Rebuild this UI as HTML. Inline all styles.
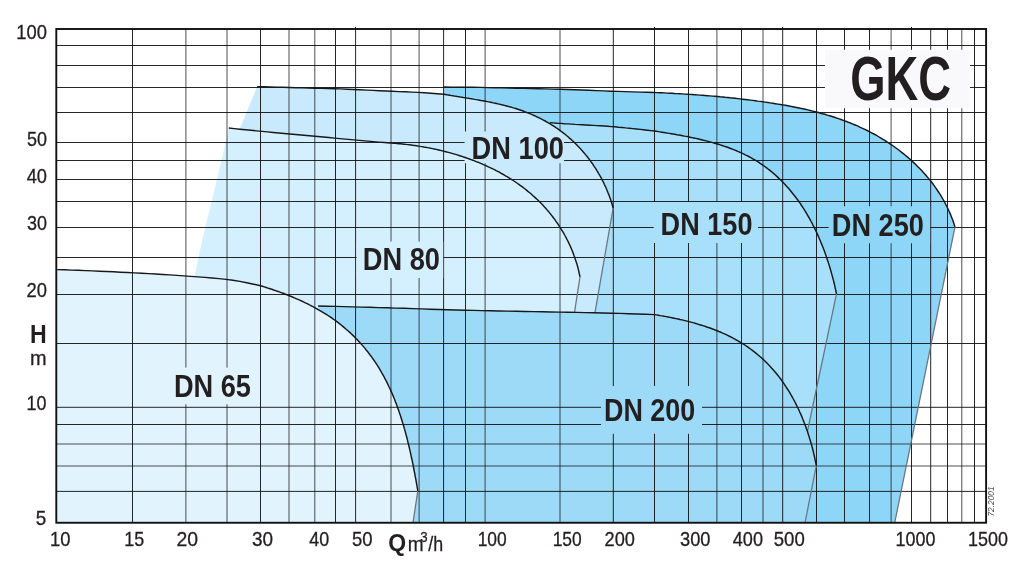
<!DOCTYPE html>
<html lang="en"><head><meta charset="utf-8"><title>GKC</title>
<style>html,body{margin:0;padding:0;background:#fff}svg{display:block}text{font-family:"Liberation Sans",Arial,Helvetica,sans-serif;fill:#231f20}</style>
</head><body>
<svg width="1024" height="568" viewBox="0 0 1024 568">
<rect width="1024" height="568" fill="#fff"/>
<defs><mask id="m" maskUnits="userSpaceOnUse" x="0" y="0" width="1024" height="568">
<rect width="1024" height="568" fill="#fff"/>
<rect x="171.0" y="367.6" width="85.0" height="36.6" fill="#000"/>
<rect x="356.6" y="241.6" width="86.6" height="36.4" fill="#000"/>
<rect x="464.6" y="131.5" width="99.4" height="31.7" fill="#000"/>
<rect x="653.7" y="202.0" width="104.3" height="41.0" fill="#000"/>
<rect x="601.0" y="386.0" width="101.0" height="47.8" fill="#000"/>
<rect x="828.6" y="206.3" width="101.5" height="37.0" fill="#000"/>
<rect x="825.0" y="49.8" width="145.0" height="58.4" fill="#000"/>
</mask></defs>
<g stroke="none">
<path fill="#8dd6f7" d="M443.8 87.0 L451.0 87.1 L458.3 87.1 L465.6 87.2 L472.8 87.3 L480.1 87.4 L487.4 87.6 L494.6 87.7 L501.9 87.8 L509.2 88.0 L516.4 88.2 L523.7 88.3 L531.0 88.5 L538.2 88.7 L545.5 88.9 L552.8 89.1 L560.0 89.3 L567.3 89.5 L574.6 89.7 L581.8 90.0 L589.1 90.3 L596.4 90.6 L603.6 90.9 L610.9 91.2 L618.2 91.4 L625.4 91.6 L632.7 91.9 L640.0 92.1 L647.2 92.3 L654.5 92.5 L657.0 92.6 L659.6 92.7 L662.1 92.8 L664.6 92.9 L667.1 93.1 L669.7 93.2 L672.2 93.3 L674.7 93.5 L677.2 93.6 L679.7 93.7 L682.3 93.9 L684.8 94.1 L687.3 94.2 L689.8 94.4 L692.3 94.5 L694.9 94.7 L697.4 94.9 L699.9 95.1 L702.4 95.3 L704.9 95.5 L707.5 95.7 L710.0 95.9 L712.5 96.1 L715.0 96.3 L717.5 96.5 L720.1 96.8 L722.6 97.0 L725.1 97.3 L727.6 97.5 L730.1 97.8 L732.6 98.0 L735.1 98.3 L737.7 98.6 L740.2 98.9 L742.7 99.2 L745.2 99.5 L747.7 99.8 L750.2 100.1 L752.7 100.4 L755.3 100.7 L757.8 101.1 L760.3 101.4 L762.8 101.8 L765.3 102.1 L767.8 102.5 L770.3 102.9 L772.8 103.3 L775.3 103.7 L777.9 104.1 L780.4 104.5 L782.9 104.9 L785.4 105.3 L787.9 105.8 L790.4 106.3 L792.9 106.7 L795.3 107.2 L797.8 107.7 L800.3 108.3 L802.8 108.8 L805.3 109.3 L807.7 109.9 L810.2 110.5 L812.7 111.1 L815.1 111.7 L817.6 112.3 L820.0 113.0 L822.4 113.7 L824.9 114.3 L827.3 115.1 L829.7 115.8 L832.1 116.5 L834.5 117.3 L836.9 118.1 L839.3 118.9 L841.6 119.7 L844.0 120.6 L846.4 121.5 L848.7 122.4 L851.1 123.3 L853.4 124.3 L855.7 125.2 L858.0 126.2 L860.3 127.3 L862.6 128.3 L864.9 129.4 L867.1 130.5 L869.4 131.7 L871.6 132.8 L873.9 134.0 L876.1 135.2 L878.3 136.5 L880.5 137.8 L882.6 139.1 L884.8 140.4 L886.9 141.8 L889.0 143.2 L891.2 144.6 L893.2 146.0 L895.3 147.5 L897.4 149.0 L899.4 150.5 L901.4 152.1 L903.4 153.6 L905.3 155.2 L907.3 156.9 L909.2 158.5 L911.1 160.2 L912.9 161.9 L914.8 163.6 L916.6 165.4 L918.4 167.2 L920.2 169.0 L921.9 170.8 L923.6 172.7 L925.3 174.5 L926.9 176.5 L928.5 178.4 L930.1 180.3 L931.7 182.3 L933.2 184.3 L934.7 186.4 L936.1 188.4 L937.5 190.5 L938.9 192.6 L940.3 194.7 L941.6 196.9 L942.8 199.0 L944.1 201.2 L945.3 203.5 L946.4 205.7 L947.6 208.0 L948.6 210.3 L949.7 212.6 L950.7 214.9 L951.6 217.3 L952.5 219.6 L953.4 222.0 L954.2 224.5 L955.0 226.9 L894.7 522.8 L443.8 522.8Z"/>
<path fill="#a8dffa" d="M549.8 122.6 L553.4 122.9 L557.0 123.2 L560.6 123.4 L564.2 123.7 L567.9 123.9 L571.5 124.1 L575.1 124.4 L578.7 124.6 L582.3 124.8 L586.0 125.0 L589.6 125.2 L593.2 125.4 L596.8 125.6 L600.4 125.8 L604.0 126.0 L607.6 126.3 L611.3 126.6 L614.9 126.8 L618.5 127.2 L622.1 127.5 L625.7 127.9 L629.3 128.2 L632.9 128.6 L636.5 129.0 L640.1 129.4 L643.7 129.8 L647.3 130.2 L650.9 130.6 L654.5 131.0 L656.3 131.3 L658.2 131.6 L660.0 131.9 L661.8 132.2 L663.7 132.5 L665.6 132.8 L667.4 133.1 L669.3 133.4 L671.2 133.7 L673.1 134.0 L674.9 134.3 L676.8 134.7 L678.7 135.0 L680.6 135.3 L682.5 135.7 L684.4 136.1 L686.3 136.4 L688.2 136.8 L690.1 137.2 L692.0 137.6 L693.9 138.0 L695.8 138.4 L697.7 138.8 L699.6 139.3 L701.5 139.7 L703.4 140.2 L705.3 140.6 L707.2 141.1 L709.1 141.6 L710.9 142.1 L712.8 142.6 L714.7 143.2 L716.6 143.7 L718.4 144.3 L720.3 144.9 L722.1 145.5 L724.0 146.1 L725.8 146.7 L727.6 147.3 L729.4 148.0 L731.2 148.7 L733.0 149.4 L734.8 150.1 L736.6 150.8 L738.3 151.6 L740.1 152.3 L741.8 153.1 L743.6 153.9 L745.3 154.8 L747.0 155.6 L748.7 156.5 L750.4 157.4 L752.0 158.3 L753.7 159.3 L755.3 160.2 L756.9 161.2 L758.5 162.2 L760.1 163.3 L761.7 164.3 L763.2 165.4 L764.8 166.5 L766.3 167.6 L767.8 168.8 L769.3 169.9 L770.8 171.1 L772.2 172.3 L773.7 173.6 L775.1 174.8 L776.5 176.1 L777.9 177.4 L779.3 178.7 L780.7 180.0 L782.0 181.3 L783.3 182.7 L784.6 184.1 L785.9 185.5 L787.2 186.9 L788.5 188.3 L789.7 189.7 L790.9 191.2 L792.1 192.7 L793.3 194.2 L794.5 195.7 L795.7 197.2 L796.8 198.7 L798.0 200.3 L799.1 201.8 L800.2 203.4 L801.2 205.0 L802.3 206.6 L803.3 208.2 L804.4 209.8 L805.4 211.5 L806.4 213.1 L807.4 214.8 L808.3 216.5 L809.3 218.1 L810.2 219.8 L811.1 221.5 L812.1 223.2 L812.9 225.0 L813.8 226.7 L814.7 228.4 L815.5 230.2 L816.4 231.9 L817.2 233.7 L818.0 235.4 L818.8 237.2 L819.5 239.0 L820.3 240.8 L821.0 242.6 L821.8 244.4 L822.5 246.2 L823.2 248.0 L823.9 249.8 L824.6 251.6 L825.2 253.4 L825.9 255.2 L826.5 257.1 L827.1 258.9 L827.7 260.7 L828.3 262.5 L828.9 264.4 L829.5 266.2 L830.0 268.1 L830.6 269.9 L831.1 271.7 L831.6 273.6 L832.1 275.4 L832.6 277.3 L833.1 279.1 L833.6 280.9 L834.0 282.8 L834.5 284.6 L834.9 286.4 L835.3 288.3 L835.7 290.1 L836.1 291.9 L836.5 293.8 L807.5 431.0 L549.8 431.0Z"/>
<path fill="#9cdaf8" d="M318.1 306.0 L326.7 306.2 L335.3 306.4 L344.0 306.6 L352.6 306.9 L361.2 307.1 L369.8 307.3 L378.5 307.6 L387.1 307.8 L395.7 308.1 L404.3 308.3 L413.0 308.6 L421.6 308.9 L430.2 309.2 L438.8 309.5 L447.4 309.7 L456.1 310.0 L464.7 310.2 L473.3 310.4 L481.9 310.6 L490.6 310.8 L499.2 311.0 L507.8 311.1 L516.4 311.3 L525.1 311.5 L533.7 311.6 L542.3 311.8 L550.9 312.0 L559.5 312.1 L568.2 312.3 L576.8 312.4 L585.4 312.6 L594.0 312.8 L602.7 313.0 L611.3 313.2 L619.9 313.4 L628.5 313.7 L637.2 314.0 L645.8 314.3 L654.4 314.6 L656.4 314.9 L658.3 315.2 L660.3 315.6 L662.2 315.9 L664.2 316.3 L666.2 316.6 L668.2 317.0 L670.1 317.4 L672.1 317.8 L674.1 318.2 L676.1 318.6 L678.1 319.0 L680.0 319.5 L682.0 319.9 L684.0 320.4 L686.0 320.9 L688.0 321.4 L689.9 321.9 L691.9 322.4 L693.9 322.9 L695.8 323.5 L697.8 324.1 L699.7 324.7 L701.7 325.3 L703.6 325.9 L705.6 326.5 L707.5 327.2 L709.4 327.8 L711.3 328.5 L713.2 329.2 L715.1 330.0 L717.0 330.7 L718.9 331.5 L720.8 332.2 L722.6 333.1 L724.5 333.9 L726.3 334.7 L728.1 335.6 L729.9 336.5 L731.7 337.4 L733.5 338.3 L735.3 339.3 L737.1 340.3 L738.8 341.3 L740.5 342.3 L742.2 343.3 L743.9 344.4 L745.6 345.5 L747.3 346.6 L748.9 347.8 L750.5 349.0 L752.1 350.2 L753.7 351.4 L755.3 352.6 L756.8 353.9 L758.4 355.2 L759.9 356.5 L761.4 357.8 L762.9 359.1 L764.3 360.5 L765.8 361.9 L767.2 363.3 L768.6 364.8 L770.0 366.2 L771.3 367.7 L772.7 369.2 L774.0 370.7 L775.3 372.2 L776.6 373.8 L777.8 375.3 L779.1 376.9 L780.3 378.5 L781.5 380.1 L782.6 381.8 L783.8 383.4 L784.9 385.1 L786.0 386.8 L787.1 388.5 L788.2 390.2 L789.3 391.9 L790.3 393.7 L791.3 395.4 L792.3 397.2 L793.3 399.0 L794.3 400.7 L795.2 402.5 L796.1 404.4 L797.0 406.2 L797.9 408.0 L798.8 409.8 L799.6 411.7 L800.5 413.6 L801.3 415.4 L802.1 417.3 L802.8 419.2 L803.6 421.1 L804.3 423.0 L805.1 424.9 L805.8 426.8 L806.4 428.7 L807.1 430.6 L807.8 432.6 L808.4 434.5 L809.0 436.4 L809.6 438.4 L810.2 440.3 L810.8 442.2 L811.3 444.2 L811.9 446.1 L812.4 448.1 L812.9 450.0 L813.4 452.0 L813.8 453.9 L814.3 455.9 L814.7 457.8 L815.1 459.8 L815.5 461.7 L815.9 463.7 L816.3 465.6 L805.0 522.8 L318.0 522.8Z"/>
<path fill="#c8eafc" d="M257.2 86.6 L263.6 86.8 L270.1 87.0 L276.5 87.2 L282.9 87.3 L289.4 87.5 L295.8 87.7 L302.3 87.8 L308.7 88.0 L315.1 88.2 L321.6 88.3 L328.0 88.5 L334.4 88.7 L340.9 88.9 L347.3 89.2 L353.7 89.5 L360.2 89.8 L366.6 90.1 L373.0 90.4 L379.5 90.7 L385.9 91.0 L392.3 91.3 L398.8 91.6 L405.2 91.8 L411.6 92.1 L418.1 92.4 L424.5 92.8 L430.9 93.2 L437.3 93.7 L443.8 94.2 L445.3 94.5 L446.8 94.8 L448.3 95.0 L449.9 95.3 L451.4 95.6 L452.9 95.8 L454.5 96.1 L456.0 96.3 L457.6 96.6 L459.1 96.8 L460.7 97.1 L462.2 97.3 L463.8 97.6 L465.4 97.8 L466.9 98.1 L468.5 98.3 L470.0 98.6 L471.6 98.8 L473.2 99.1 L474.7 99.4 L476.3 99.6 L477.9 99.9 L479.4 100.2 L481.0 100.5 L482.6 100.7 L484.1 101.0 L485.7 101.3 L487.2 101.6 L488.8 101.9 L490.4 102.2 L491.9 102.5 L493.5 102.9 L495.0 103.2 L496.6 103.5 L498.1 103.9 L499.7 104.2 L501.2 104.6 L502.8 105.0 L504.3 105.4 L505.8 105.8 L507.4 106.2 L508.9 106.6 L510.4 107.0 L511.9 107.4 L513.4 107.9 L514.9 108.3 L516.4 108.8 L517.9 109.3 L519.4 109.8 L520.9 110.3 L522.4 110.8 L523.9 111.3 L525.3 111.9 L526.8 112.5 L528.3 113.0 L529.7 113.6 L531.2 114.2 L532.6 114.8 L534.0 115.5 L535.5 116.1 L536.9 116.8 L538.3 117.5 L539.7 118.1 L541.1 118.9 L542.5 119.6 L543.9 120.3 L545.2 121.0 L546.6 121.8 L547.9 122.6 L549.3 123.4 L550.6 124.2 L552.0 125.0 L553.3 125.8 L554.6 126.7 L555.9 127.6 L557.2 128.4 L558.5 129.3 L559.7 130.2 L561.0 131.2 L562.2 132.1 L563.5 133.1 L564.7 134.0 L565.9 135.0 L567.1 136.0 L568.3 137.0 L569.5 138.1 L570.7 139.1 L571.9 140.2 L573.0 141.2 L574.2 142.3 L575.3 143.4 L576.4 144.5 L577.5 145.7 L578.6 146.8 L579.7 148.0 L580.8 149.1 L581.8 150.3 L582.9 151.5 L583.9 152.7 L584.9 153.9 L585.9 155.1 L586.9 156.3 L587.9 157.6 L588.8 158.8 L589.8 160.1 L590.7 161.4 L591.7 162.7 L592.6 163.9 L593.5 165.3 L594.3 166.6 L595.2 167.9 L596.1 169.2 L596.9 170.6 L597.7 171.9 L598.5 173.3 L599.3 174.6 L600.1 176.0 L600.9 177.4 L601.6 178.8 L602.3 180.2 L603.1 181.6 L603.8 183.0 L604.4 184.5 L605.1 185.9 L605.8 187.3 L606.4 188.8 L607.0 190.2 L607.6 191.7 L608.2 193.2 L608.8 194.6 L609.3 196.1 L609.9 197.6 L610.4 199.1 L610.9 200.6 L611.4 202.1 L611.8 203.6 L612.3 205.1 L612.7 206.6 L613.1 208.1 L595.0 312.7 L594.0 312.8 L585.4 312.6 L576.8 312.4 L574.5 312.4 L580.0 276.9 L579.6 275.1 L579.2 273.3 L578.8 271.5 L578.4 269.7 L578.0 267.9 L577.5 266.2 L577.0 264.4 L576.5 262.7 L575.9 260.9 L575.3 259.2 L574.8 257.5 L574.1 255.8 L573.5 254.1 L572.9 252.4 L572.2 250.7 L571.5 249.0 L570.8 247.4 L570.1 245.7 L569.3 244.1 L568.5 242.4 L567.7 240.8 L566.9 239.2 L566.1 237.6 L565.2 236.0 L564.4 234.5 L563.5 232.9 L562.6 231.4 L561.6 229.8 L560.7 228.3 L559.7 226.8 L558.8 225.3 L557.8 223.8 L556.7 222.3 L555.7 220.9 L554.7 219.4 L553.6 218.0 L552.5 216.5 L551.4 215.1 L550.3 213.7 L549.2 212.4 L548.0 211.0 L546.8 209.6 L545.7 208.3 L544.5 207.0 L543.3 205.6 L542.0 204.3 L540.8 203.1 L539.5 201.8 L538.3 200.5 L537.0 199.3 L535.7 198.1 L534.4 196.9 L533.0 195.7 L531.7 194.5 L530.4 193.3 L529.0 192.2 L527.6 191.1 L526.2 189.9 L524.8 188.8 L523.4 187.7 L522.0 186.7 L520.5 185.6 L519.1 184.6 L517.6 183.5 L516.1 182.5 L514.7 181.5 L513.2 180.5 L511.7 179.5 L510.1 178.6 L508.6 177.6 L507.1 176.7 L505.5 175.8 L504.0 174.9 L502.4 174.0 L500.8 173.1 L499.3 172.2 L497.7 171.4 L496.1 170.6 L494.5 169.7 L492.8 168.9 L491.2 168.1 L489.6 167.4 L487.9 166.6 L486.3 165.8 L484.6 165.1 L483.0 164.4 L481.3 163.6 L479.6 162.9 L477.9 162.2 L476.2 161.6 L474.5 160.9 L472.8 160.2 L471.1 159.6 L469.4 159.0 L467.7 158.4 L466.0 157.8 L464.3 157.2 L462.5 156.6 L460.8 156.0 L459.1 155.5 L457.3 154.9 L455.6 154.4 L453.8 153.9 L452.0 153.4 L450.3 152.9 L448.5 152.4 L446.8 152.0 L445.0 151.5 L443.2 151.1 L441.5 150.6 L439.7 150.2 L437.9 149.8 L436.1 149.4 L434.3 149.0 L432.6 148.6 L430.8 148.3 L429.0 147.9 L427.2 147.6 L425.4 147.3 L423.7 147.0 L421.9 146.6 L420.1 146.4 L418.3 146.1 L416.5 145.8 L414.7 145.5 L413.0 145.3 L411.2 145.0 L409.4 144.8 L407.6 144.6 L405.9 144.4 L404.1 144.2 L402.3 144.0 L400.5 143.8 L398.8 143.7 L397.0 143.5 L395.3 143.4 L393.5 143.2 L391.7 143.1 L390.0 143.0 L384.4 142.5 L378.9 142.1 L373.3 141.6 L367.7 141.1 L362.2 140.6 L356.6 140.1 L351.1 139.6 L345.5 139.1 L339.9 138.6 L334.4 138.1 L328.8 137.5 L323.3 137.0 L317.7 136.5 L312.1 136.0 L306.6 135.5 L301.0 135.0 L295.4 134.5 L289.9 134.0 L284.3 133.5 L278.8 133.0 L273.2 132.5 L267.6 131.9 L262.1 131.4 L256.5 130.9 L251.0 130.3 L245.4 129.7 L239.9 129.2 L239.7 129.1Z"/>
<path fill="#d4effd" d="M194.8 275.5 L195.3 273.0 L195.8 270.5 L196.3 267.9 L196.8 265.4 L197.3 262.9 L197.8 260.4 L198.4 257.9 L198.9 255.4 L199.4 252.9 L200.0 250.4 L200.5 247.9 L201.1 245.4 L201.7 242.9 L202.2 240.3 L202.8 237.8 L203.4 235.4 L204.0 232.9 L204.6 230.4 L205.2 227.9 L205.7 225.4 L206.3 222.9 L206.9 220.4 L207.6 217.9 L208.2 215.4 L208.8 212.9 L209.4 210.4 L210.0 207.9 L210.6 205.4 L211.2 202.9 L211.8 200.4 L212.4 197.9 L213.0 195.5 L213.7 193.0 L214.3 190.5 L214.9 188.0 L215.5 185.5 L216.1 183.0 L216.7 180.5 L217.3 178.0 L217.9 175.5 L218.5 173.0 L219.1 170.5 L219.7 168.0 L220.3 165.5 L220.9 163.1 L221.5 160.6 L222.1 158.1 L222.7 155.6 L223.3 153.1 L223.8 150.6 L224.4 148.1 L225.0 145.6 L225.5 143.1 L226.1 140.5 L226.6 138.0 L227.2 135.5 L227.7 133.0 L228.2 130.5 L228.8 128.0 L234.3 128.6 L239.9 129.2 L245.4 129.7 L251.0 130.3 L256.5 130.9 L262.1 131.4 L267.6 131.9 L273.2 132.5 L278.8 133.0 L284.3 133.5 L289.9 134.0 L295.4 134.5 L301.0 135.0 L306.6 135.5 L312.1 136.0 L317.7 136.5 L323.3 137.0 L328.8 137.5 L334.4 138.1 L339.9 138.6 L345.5 139.1 L351.1 139.6 L356.6 140.1 L362.2 140.6 L367.7 141.1 L373.3 141.6 L378.9 142.1 L384.4 142.5 L390.0 143.0 L391.7 143.1 L393.5 143.2 L395.3 143.4 L397.0 143.5 L398.8 143.7 L400.5 143.8 L402.3 144.0 L404.1 144.2 L405.9 144.4 L407.6 144.6 L409.4 144.8 L411.2 145.0 L413.0 145.3 L414.7 145.5 L416.5 145.8 L418.3 146.1 L420.1 146.4 L421.9 146.6 L423.7 147.0 L425.4 147.3 L427.2 147.6 L429.0 147.9 L430.8 148.3 L432.6 148.6 L434.3 149.0 L436.1 149.4 L437.9 149.8 L439.7 150.2 L441.5 150.6 L443.2 151.1 L445.0 151.5 L446.8 152.0 L448.5 152.4 L450.3 152.9 L452.0 153.4 L453.8 153.9 L455.6 154.4 L457.3 154.9 L459.1 155.5 L460.8 156.0 L462.5 156.6 L464.3 157.2 L466.0 157.8 L467.7 158.4 L469.4 159.0 L471.1 159.6 L472.8 160.2 L474.5 160.9 L476.2 161.6 L477.9 162.2 L479.6 162.9 L481.3 163.6 L483.0 164.4 L484.6 165.1 L486.3 165.8 L487.9 166.6 L489.6 167.4 L491.2 168.1 L492.8 168.9 L494.5 169.7 L496.1 170.6 L497.7 171.4 L499.3 172.2 L500.8 173.1 L502.4 174.0 L504.0 174.9 L505.5 175.8 L507.1 176.7 L508.6 177.6 L510.1 178.6 L511.7 179.5 L513.2 180.5 L514.7 181.5 L516.1 182.5 L517.6 183.5 L519.1 184.6 L520.5 185.6 L522.0 186.7 L523.4 187.7 L524.8 188.8 L526.2 189.9 L527.6 191.1 L529.0 192.2 L530.4 193.3 L531.7 194.5 L533.0 195.7 L534.4 196.9 L535.7 198.1 L537.0 199.3 L538.3 200.5 L539.5 201.8 L540.8 203.1 L542.0 204.3 L543.3 205.6 L544.5 207.0 L545.7 208.3 L546.8 209.6 L548.0 211.0 L549.2 212.4 L550.3 213.7 L551.4 215.1 L552.5 216.5 L553.6 218.0 L554.7 219.4 L555.7 220.9 L556.7 222.3 L557.8 223.8 L558.8 225.3 L559.7 226.8 L560.7 228.3 L561.6 229.8 L562.6 231.4 L563.5 232.9 L564.4 234.5 L565.2 236.0 L566.1 237.6 L566.9 239.2 L567.7 240.8 L568.5 242.4 L569.3 244.1 L570.1 245.7 L570.8 247.4 L571.5 249.0 L572.2 250.7 L572.9 252.4 L573.5 254.1 L574.1 255.8 L574.8 257.5 L575.3 259.2 L575.9 260.9 L576.5 262.7 L577.0 264.4 L577.5 266.2 L578.0 267.9 L578.4 269.7 L578.8 271.5 L579.2 273.3 L579.6 275.1 L580.0 276.9 L574.5 312.4 L568.2 312.3 L559.5 312.1 L550.9 312.0 L542.3 311.8 L533.7 311.6 L525.1 311.5 L516.4 311.3 L507.8 311.1 L499.2 311.0 L490.6 310.8 L481.9 310.6 L473.3 310.4 L464.7 310.2 L456.1 310.0 L447.4 309.7 L438.8 309.5 L430.2 309.2 L421.6 308.9 L413.0 308.6 L404.3 308.3 L395.7 308.1 L387.1 307.8 L378.5 307.6 L369.8 307.3 L361.2 307.1 L352.6 306.9 L344.0 306.6 L335.3 306.4 L326.7 306.2 L318.1 306.0 L318.1 313.0 L250.0 293.0 L194.8 281.0Z"/>
<path fill="#e1f4fe" d="M56.3 269.7 L57.3 269.6 L64.3 269.8 L71.4 270.1 L78.4 270.3 L85.4 270.6 L92.5 270.9 L99.5 271.2 L106.5 271.5 L113.6 271.8 L120.6 272.2 L127.6 272.5 L134.6 272.9 L141.7 273.2 L148.7 273.6 L155.7 274.0 L162.8 274.5 L169.8 274.9 L176.8 275.4 L183.8 275.9 L190.8 276.4 L197.9 276.9 L204.9 277.4 L211.9 278.0 L218.9 278.6 L225.9 279.4 L232.9 280.3 L239.8 281.4 L246.7 282.7 L253.6 284.2 L260.5 285.8 L262.4 286.3 L264.3 286.9 L266.1 287.5 L268.0 288.1 L269.9 288.7 L271.8 289.3 L273.7 290.0 L275.6 290.6 L277.4 291.3 L279.3 291.9 L281.2 292.6 L283.1 293.3 L284.9 294.0 L286.8 294.7 L288.7 295.5 L290.5 296.2 L292.4 297.0 L294.3 297.8 L296.1 298.6 L297.9 299.4 L299.8 300.2 L301.6 301.0 L303.4 301.9 L305.3 302.8 L307.1 303.6 L308.9 304.5 L310.6 305.5 L312.4 306.4 L314.2 307.3 L316.0 308.3 L317.7 309.3 L319.5 310.3 L321.2 311.3 L322.9 312.3 L324.6 313.4 L326.3 314.4 L328.0 315.5 L329.7 316.6 L331.3 317.7 L332.9 318.9 L334.6 320.0 L336.2 321.2 L337.8 322.4 L339.4 323.6 L340.9 324.8 L342.5 326.1 L344.0 327.4 L345.5 328.7 L347.0 330.0 L348.5 331.3 L350.0 332.6 L351.4 334.0 L352.9 335.4 L354.3 336.7 L355.7 338.2 L357.1 339.6 L358.4 341.0 L359.8 342.5 L361.1 343.9 L362.4 345.4 L363.7 346.9 L365.0 348.4 L366.2 350.0 L367.5 351.5 L368.7 353.1 L369.9 354.7 L371.1 356.2 L372.2 357.9 L373.4 359.5 L374.5 361.1 L375.6 362.7 L376.7 364.4 L377.8 366.1 L378.8 367.7 L379.8 369.4 L380.8 371.1 L381.8 372.9 L382.8 374.6 L383.8 376.3 L384.7 378.1 L385.6 379.8 L386.5 381.6 L387.4 383.4 L388.3 385.2 L389.1 387.0 L390.0 388.8 L390.8 390.6 L391.6 392.4 L392.4 394.3 L393.2 396.1 L394.0 398.0 L394.7 399.8 L395.4 401.7 L396.2 403.6 L396.9 405.4 L397.5 407.3 L398.2 409.2 L398.9 411.1 L399.5 413.0 L400.2 414.9 L400.8 416.8 L401.4 418.8 L402.0 420.7 L402.6 422.6 L403.2 424.6 L403.8 426.5 L404.3 428.4 L404.9 430.4 L405.4 432.3 L405.9 434.3 L406.5 436.2 L407.0 438.2 L407.5 440.1 L407.9 442.1 L408.4 444.0 L408.9 446.0 L409.4 448.0 L409.8 449.9 L410.3 451.9 L410.7 453.8 L411.1 455.8 L411.5 457.8 L412.0 459.7 L412.4 461.7 L412.8 463.6 L413.2 465.6 L413.5 467.5 L413.9 469.5 L414.3 471.4 L414.7 473.4 L415.0 475.3 L415.4 477.3 L415.8 479.2 L416.1 481.1 L416.5 483.1 L416.8 485.0 L417.1 486.9 L417.5 488.8 L417.8 490.8 L413.0 522.8 L56.3 522.8Z"/>
</g>
<rect x="825" y="49.8" width="145" height="58.4" fill="#f9f9fb"/>
<g mask="url(#m)" stroke="#121214" stroke-width="0.92" fill="none">
<path d="M132.5 29.0V522.8M260.5 29.0V522.8M335.5 29.0V522.8M355.6 29.0V522.8M443.6 29.0V522.8M465.5 29.0V522.8M613.3 29.0V522.8M654.5 29.0V522.8M688.5 29.0V522.8M741.5 29.0V522.8M782.7 29.0V522.8M816.5 29.0V522.8M844.5 29.0V522.8M869.5 29.0V522.8M911.5 29.0V522.8M930.7 29.0V522.8M947.5 29.0V522.8M974.5 29.0V522.8M56.3 45.5H986.1M56.3 65.5H986.1M56.3 87.5H986.1M56.3 112.5H986.1M56.3 142.5H986.1M56.3 160.5H986.1M56.3 179.5H986.1M56.3 201.5H986.1M56.3 227.5H986.1M56.3 257.5H986.1M56.3 294.5H986.1M56.3 343.5H986.1M56.3 407.3H986.1M56.3 424.5H986.1M56.3 491.4H986.1"/>
<path stroke-width="0.74" d="M185.9 29.0V522.8M227.0 29.0V522.8M289.0 29.0V522.8M314.8 29.0V522.8M391.0 29.0V522.8M419.1 29.0V522.8M485.1 29.0V522.8M560.0 29.0V522.8M716.9 29.0V522.8M763.0 29.0V522.8M891.1 29.0V522.8M961.8 29.0V522.8M56.3 444.0H986.1M56.3 466.0H986.1"/>
</g>
<path stroke="#121214" stroke-width="1" d="M355.5 26.9V29M654.5 26.9V29M782.6 26.9V29M911.5 26.9V29"/>
<g stroke="#6a757e" stroke-width="1.25" fill="none">
<path d="M417.8 490.8 L413.0 522.8"/>
<path d="M580.0 276.9 L574.5 312.4"/>
<path d="M613.1 208.1 L595.0 312.7"/>
<path d="M836.5 293.8 L807.5 431.0"/>
<path d="M816.3 465.6 L805.0 522.8"/>
<path d="M955.0 226.9 L894.7 522.8"/>
</g>
<g stroke="#18181a" stroke-width="1.45" fill="none" stroke-linecap="butt" stroke-linejoin="round">
<path d="M57.3 269.6 L64.3 269.8 L71.4 270.1 L78.4 270.3 L85.4 270.6 L92.5 270.9 L99.5 271.2 L106.5 271.5 L113.6 271.8 L120.6 272.2 L127.6 272.5 L134.6 272.9 L141.7 273.2 L148.7 273.6 L155.7 274.0 L162.8 274.5 L169.8 274.9 L176.8 275.4 L183.8 275.9 L190.8 276.4 L197.9 276.9 L204.9 277.4 L211.9 278.0 L218.9 278.6 L225.9 279.4 L232.9 280.3 L239.8 281.4 L246.7 282.7 L253.6 284.2 L260.5 285.8 L262.4 286.3 L264.3 286.9 L266.1 287.5 L268.0 288.1 L269.9 288.7 L271.8 289.3 L273.7 290.0 L275.6 290.6 L277.4 291.3 L279.3 291.9 L281.2 292.6 L283.1 293.3 L284.9 294.0 L286.8 294.7 L288.7 295.5 L290.5 296.2 L292.4 297.0 L294.3 297.8 L296.1 298.6 L297.9 299.4 L299.8 300.2 L301.6 301.0 L303.4 301.9 L305.3 302.8 L307.1 303.6 L308.9 304.5 L310.6 305.5 L312.4 306.4 L314.2 307.3 L316.0 308.3 L317.7 309.3 L319.5 310.3 L321.2 311.3 L322.9 312.3 L324.6 313.4 L326.3 314.4 L328.0 315.5 L329.7 316.6 L331.3 317.7 L332.9 318.9 L334.6 320.0 L336.2 321.2 L337.8 322.4 L339.4 323.6 L340.9 324.8 L342.5 326.1 L344.0 327.4 L345.5 328.7 L347.0 330.0 L348.5 331.3 L350.0 332.6 L351.4 334.0 L352.9 335.4 L354.3 336.7 L355.7 338.2 L357.1 339.6 L358.4 341.0 L359.8 342.5 L361.1 343.9 L362.4 345.4 L363.7 346.9 L365.0 348.4 L366.2 350.0 L367.5 351.5 L368.7 353.1 L369.9 354.7 L371.1 356.2 L372.2 357.9 L373.4 359.5 L374.5 361.1 L375.6 362.7 L376.7 364.4 L377.8 366.1 L378.8 367.7 L379.8 369.4 L380.8 371.1 L381.8 372.9 L382.8 374.6 L383.8 376.3 L384.7 378.1 L385.6 379.8 L386.5 381.6 L387.4 383.4 L388.3 385.2 L389.1 387.0 L390.0 388.8 L390.8 390.6 L391.6 392.4 L392.4 394.3 L393.2 396.1 L394.0 398.0 L394.7 399.8 L395.4 401.7 L396.2 403.6 L396.9 405.4 L397.5 407.3 L398.2 409.2 L398.9 411.1 L399.5 413.0 L400.2 414.9 L400.8 416.8 L401.4 418.8 L402.0 420.7 L402.6 422.6 L403.2 424.6 L403.8 426.5 L404.3 428.4 L404.9 430.4 L405.4 432.3 L405.9 434.3 L406.5 436.2 L407.0 438.2 L407.5 440.1 L407.9 442.1 L408.4 444.0 L408.9 446.0 L409.4 448.0 L409.8 449.9 L410.3 451.9 L410.7 453.8 L411.1 455.8 L411.5 457.8 L412.0 459.7 L412.4 461.7 L412.8 463.6 L413.2 465.6 L413.5 467.5 L413.9 469.5 L414.3 471.4 L414.7 473.4 L415.0 475.3 L415.4 477.3 L415.8 479.2 L416.1 481.1 L416.5 483.1 L416.8 485.0 L417.1 486.9 L417.5 488.8 L417.8 490.8"/>
<path d="M228.8 128.0 L234.3 128.6 L239.9 129.2 L245.4 129.7 L251.0 130.3 L256.5 130.9 L262.1 131.4 L267.6 131.9 L273.2 132.5 L278.8 133.0 L284.3 133.5 L289.9 134.0 L295.4 134.5 L301.0 135.0 L306.6 135.5 L312.1 136.0 L317.7 136.5 L323.3 137.0 L328.8 137.5 L334.4 138.1 L339.9 138.6 L345.5 139.1 L351.1 139.6 L356.6 140.1 L362.2 140.6 L367.7 141.1 L373.3 141.6 L378.9 142.1 L384.4 142.5 L390.0 143.0 L391.7 143.1 L393.5 143.2 L395.3 143.4 L397.0 143.5 L398.8 143.7 L400.5 143.8 L402.3 144.0 L404.1 144.2 L405.9 144.4 L407.6 144.6 L409.4 144.8 L411.2 145.0 L413.0 145.3 L414.7 145.5 L416.5 145.8 L418.3 146.1 L420.1 146.4 L421.9 146.6 L423.7 147.0 L425.4 147.3 L427.2 147.6 L429.0 147.9 L430.8 148.3 L432.6 148.6 L434.3 149.0 L436.1 149.4 L437.9 149.8 L439.7 150.2 L441.5 150.6 L443.2 151.1 L445.0 151.5 L446.8 152.0 L448.5 152.4 L450.3 152.9 L452.0 153.4 L453.8 153.9 L455.6 154.4 L457.3 154.9 L459.1 155.5 L460.8 156.0 L462.5 156.6 L464.3 157.2 L466.0 157.8 L467.7 158.4 L469.4 159.0 L471.1 159.6 L472.8 160.2 L474.5 160.9 L476.2 161.6 L477.9 162.2 L479.6 162.9 L481.3 163.6 L483.0 164.4 L484.6 165.1 L486.3 165.8 L487.9 166.6 L489.6 167.4 L491.2 168.1 L492.8 168.9 L494.5 169.7 L496.1 170.6 L497.7 171.4 L499.3 172.2 L500.8 173.1 L502.4 174.0 L504.0 174.9 L505.5 175.8 L507.1 176.7 L508.6 177.6 L510.1 178.6 L511.7 179.5 L513.2 180.5 L514.7 181.5 L516.1 182.5 L517.6 183.5 L519.1 184.6 L520.5 185.6 L522.0 186.7 L523.4 187.7 L524.8 188.8 L526.2 189.9 L527.6 191.1 L529.0 192.2 L530.4 193.3 L531.7 194.5 L533.0 195.7 L534.4 196.9 L535.7 198.1 L537.0 199.3 L538.3 200.5 L539.5 201.8 L540.8 203.1 L542.0 204.3 L543.3 205.6 L544.5 207.0 L545.7 208.3 L546.8 209.6 L548.0 211.0 L549.2 212.4 L550.3 213.7 L551.4 215.1 L552.5 216.5 L553.6 218.0 L554.7 219.4 L555.7 220.9 L556.7 222.3 L557.8 223.8 L558.8 225.3 L559.7 226.8 L560.7 228.3 L561.6 229.8 L562.6 231.4 L563.5 232.9 L564.4 234.5 L565.2 236.0 L566.1 237.6 L566.9 239.2 L567.7 240.8 L568.5 242.4 L569.3 244.1 L570.1 245.7 L570.8 247.4 L571.5 249.0 L572.2 250.7 L572.9 252.4 L573.5 254.1 L574.1 255.8 L574.8 257.5 L575.3 259.2 L575.9 260.9 L576.5 262.7 L577.0 264.4 L577.5 266.2 L578.0 267.9 L578.4 269.7 L578.8 271.5 L579.2 273.3 L579.6 275.1 L580.0 276.9"/>
<path d="M257.2 86.6 L263.6 86.8 L270.1 87.0 L276.5 87.2 L282.9 87.3 L289.4 87.5 L295.8 87.7 L302.3 87.8 L308.7 88.0 L315.1 88.2 L321.6 88.3 L328.0 88.5 L334.4 88.7 L340.9 88.9 L347.3 89.2 L353.7 89.5 L360.2 89.8 L366.6 90.1 L373.0 90.4 L379.5 90.7 L385.9 91.0 L392.3 91.3 L398.8 91.6 L405.2 91.8 L411.6 92.1 L418.1 92.4 L424.5 92.8 L430.9 93.2 L437.3 93.7 L443.8 94.2 L445.3 94.5 L446.8 94.8 L448.3 95.0 L449.9 95.3 L451.4 95.6 L452.9 95.8 L454.5 96.1 L456.0 96.3 L457.6 96.6 L459.1 96.8 L460.7 97.1 L462.2 97.3 L463.8 97.6 L465.4 97.8 L466.9 98.1 L468.5 98.3 L470.0 98.6 L471.6 98.8 L473.2 99.1 L474.7 99.4 L476.3 99.6 L477.9 99.9 L479.4 100.2 L481.0 100.5 L482.6 100.7 L484.1 101.0 L485.7 101.3 L487.2 101.6 L488.8 101.9 L490.4 102.2 L491.9 102.5 L493.5 102.9 L495.0 103.2 L496.6 103.5 L498.1 103.9 L499.7 104.2 L501.2 104.6 L502.8 105.0 L504.3 105.4 L505.8 105.8 L507.4 106.2 L508.9 106.6 L510.4 107.0 L511.9 107.4 L513.4 107.9 L514.9 108.3 L516.4 108.8 L517.9 109.3 L519.4 109.8 L520.9 110.3 L522.4 110.8 L523.9 111.3 L525.3 111.9 L526.8 112.5 L528.3 113.0 L529.7 113.6 L531.2 114.2 L532.6 114.8 L534.0 115.5 L535.5 116.1 L536.9 116.8 L538.3 117.5 L539.7 118.1 L541.1 118.9 L542.5 119.6 L543.9 120.3 L545.2 121.0 L546.6 121.8 L547.9 122.6 L549.3 123.4 L550.6 124.2 L552.0 125.0 L553.3 125.8 L554.6 126.7 L555.9 127.6 L557.2 128.4 L558.5 129.3 L559.7 130.2 L561.0 131.2 L562.2 132.1 L563.5 133.1 L564.7 134.0 L565.9 135.0 L567.1 136.0 L568.3 137.0 L569.5 138.1 L570.7 139.1 L571.9 140.2 L573.0 141.2 L574.2 142.3 L575.3 143.4 L576.4 144.5 L577.5 145.7 L578.6 146.8 L579.7 148.0 L580.8 149.1 L581.8 150.3 L582.9 151.5 L583.9 152.7 L584.9 153.9 L585.9 155.1 L586.9 156.3 L587.9 157.6 L588.8 158.8 L589.8 160.1 L590.7 161.4 L591.7 162.7 L592.6 163.9 L593.5 165.3 L594.3 166.6 L595.2 167.9 L596.1 169.2 L596.9 170.6 L597.7 171.9 L598.5 173.3 L599.3 174.6 L600.1 176.0 L600.9 177.4 L601.6 178.8 L602.3 180.2 L603.1 181.6 L603.8 183.0 L604.4 184.5 L605.1 185.9 L605.8 187.3 L606.4 188.8 L607.0 190.2 L607.6 191.7 L608.2 193.2 L608.8 194.6 L609.3 196.1 L609.9 197.6 L610.4 199.1 L610.9 200.6 L611.4 202.1 L611.8 203.6 L612.3 205.1 L612.7 206.6 L613.1 208.1"/>
<path d="M549.8 122.6 L553.4 122.9 L557.0 123.2 L560.6 123.4 L564.2 123.7 L567.9 123.9 L571.5 124.1 L575.1 124.4 L578.7 124.6 L582.3 124.8 L586.0 125.0 L589.6 125.2 L593.2 125.4 L596.8 125.6 L600.4 125.8 L604.0 126.0 L607.6 126.3 L611.3 126.6 L614.9 126.8 L618.5 127.2 L622.1 127.5 L625.7 127.9 L629.3 128.2 L632.9 128.6 L636.5 129.0 L640.1 129.4 L643.7 129.8 L647.3 130.2 L650.9 130.6 L654.5 131.0 L656.3 131.3 L658.2 131.6 L660.0 131.9 L661.8 132.2 L663.7 132.5 L665.6 132.8 L667.4 133.1 L669.3 133.4 L671.2 133.7 L673.1 134.0 L674.9 134.3 L676.8 134.7 L678.7 135.0 L680.6 135.3 L682.5 135.7 L684.4 136.1 L686.3 136.4 L688.2 136.8 L690.1 137.2 L692.0 137.6 L693.9 138.0 L695.8 138.4 L697.7 138.8 L699.6 139.3 L701.5 139.7 L703.4 140.2 L705.3 140.6 L707.2 141.1 L709.1 141.6 L710.9 142.1 L712.8 142.6 L714.7 143.2 L716.6 143.7 L718.4 144.3 L720.3 144.9 L722.1 145.5 L724.0 146.1 L725.8 146.7 L727.6 147.3 L729.4 148.0 L731.2 148.7 L733.0 149.4 L734.8 150.1 L736.6 150.8 L738.3 151.6 L740.1 152.3 L741.8 153.1 L743.6 153.9 L745.3 154.8 L747.0 155.6 L748.7 156.5 L750.4 157.4 L752.0 158.3 L753.7 159.3 L755.3 160.2 L756.9 161.2 L758.5 162.2 L760.1 163.3 L761.7 164.3 L763.2 165.4 L764.8 166.5 L766.3 167.6 L767.8 168.8 L769.3 169.9 L770.8 171.1 L772.2 172.3 L773.7 173.6 L775.1 174.8 L776.5 176.1 L777.9 177.4 L779.3 178.7 L780.7 180.0 L782.0 181.3 L783.3 182.7 L784.6 184.1 L785.9 185.5 L787.2 186.9 L788.5 188.3 L789.7 189.7 L790.9 191.2 L792.1 192.7 L793.3 194.2 L794.5 195.7 L795.7 197.2 L796.8 198.7 L798.0 200.3 L799.1 201.8 L800.2 203.4 L801.2 205.0 L802.3 206.6 L803.3 208.2 L804.4 209.8 L805.4 211.5 L806.4 213.1 L807.4 214.8 L808.3 216.5 L809.3 218.1 L810.2 219.8 L811.1 221.5 L812.1 223.2 L812.9 225.0 L813.8 226.7 L814.7 228.4 L815.5 230.2 L816.4 231.9 L817.2 233.7 L818.0 235.4 L818.8 237.2 L819.5 239.0 L820.3 240.8 L821.0 242.6 L821.8 244.4 L822.5 246.2 L823.2 248.0 L823.9 249.8 L824.6 251.6 L825.2 253.4 L825.9 255.2 L826.5 257.1 L827.1 258.9 L827.7 260.7 L828.3 262.5 L828.9 264.4 L829.5 266.2 L830.0 268.1 L830.6 269.9 L831.1 271.7 L831.6 273.6 L832.1 275.4 L832.6 277.3 L833.1 279.1 L833.6 280.9 L834.0 282.8 L834.5 284.6 L834.9 286.4 L835.3 288.3 L835.7 290.1 L836.1 291.9 L836.5 293.8"/>
<path d="M318.1 306.0 L326.7 306.2 L335.3 306.4 L344.0 306.6 L352.6 306.9 L361.2 307.1 L369.8 307.3 L378.5 307.6 L387.1 307.8 L395.7 308.1 L404.3 308.3 L413.0 308.6 L421.6 308.9 L430.2 309.2 L438.8 309.5 L447.4 309.7 L456.1 310.0 L464.7 310.2 L473.3 310.4 L481.9 310.6 L490.6 310.8 L499.2 311.0 L507.8 311.1 L516.4 311.3 L525.1 311.5 L533.7 311.6 L542.3 311.8 L550.9 312.0 L559.5 312.1 L568.2 312.3 L576.8 312.4 L585.4 312.6 L594.0 312.8 L602.7 313.0 L611.3 313.2 L619.9 313.4 L628.5 313.7 L637.2 314.0 L645.8 314.3 L654.4 314.6 L656.4 314.9 L658.3 315.2 L660.3 315.6 L662.2 315.9 L664.2 316.3 L666.2 316.6 L668.2 317.0 L670.1 317.4 L672.1 317.8 L674.1 318.2 L676.1 318.6 L678.1 319.0 L680.0 319.5 L682.0 319.9 L684.0 320.4 L686.0 320.9 L688.0 321.4 L689.9 321.9 L691.9 322.4 L693.9 322.9 L695.8 323.5 L697.8 324.1 L699.7 324.7 L701.7 325.3 L703.6 325.9 L705.6 326.5 L707.5 327.2 L709.4 327.8 L711.3 328.5 L713.2 329.2 L715.1 330.0 L717.0 330.7 L718.9 331.5 L720.8 332.2 L722.6 333.1 L724.5 333.9 L726.3 334.7 L728.1 335.6 L729.9 336.5 L731.7 337.4 L733.5 338.3 L735.3 339.3 L737.1 340.3 L738.8 341.3 L740.5 342.3 L742.2 343.3 L743.9 344.4 L745.6 345.5 L747.3 346.6 L748.9 347.8 L750.5 349.0 L752.1 350.2 L753.7 351.4 L755.3 352.6 L756.8 353.9 L758.4 355.2 L759.9 356.5 L761.4 357.8 L762.9 359.1 L764.3 360.5 L765.8 361.9 L767.2 363.3 L768.6 364.8 L770.0 366.2 L771.3 367.7 L772.7 369.2 L774.0 370.7 L775.3 372.2 L776.6 373.8 L777.8 375.3 L779.1 376.9 L780.3 378.5 L781.5 380.1 L782.6 381.8 L783.8 383.4 L784.9 385.1 L786.0 386.8 L787.1 388.5 L788.2 390.2 L789.3 391.9 L790.3 393.7 L791.3 395.4 L792.3 397.2 L793.3 399.0 L794.3 400.7 L795.2 402.5 L796.1 404.4 L797.0 406.2 L797.9 408.0 L798.8 409.8 L799.6 411.7 L800.5 413.6 L801.3 415.4 L802.1 417.3 L802.8 419.2 L803.6 421.1 L804.3 423.0 L805.1 424.9 L805.8 426.8 L806.4 428.7 L807.1 430.6 L807.8 432.6 L808.4 434.5 L809.0 436.4 L809.6 438.4 L810.2 440.3 L810.8 442.2 L811.3 444.2 L811.9 446.1 L812.4 448.1 L812.9 450.0 L813.4 452.0 L813.8 453.9 L814.3 455.9 L814.7 457.8 L815.1 459.8 L815.5 461.7 L815.9 463.7 L816.3 465.6"/>
<path d="M443.8 87.0 L451.0 87.1 L458.3 87.1 L465.6 87.2 L472.8 87.3 L480.1 87.4 L487.4 87.6 L494.6 87.7 L501.9 87.8 L509.2 88.0 L516.4 88.2 L523.7 88.3 L531.0 88.5 L538.2 88.7 L545.5 88.9 L552.8 89.1 L560.0 89.3 L567.3 89.5 L574.6 89.7 L581.8 90.0 L589.1 90.3 L596.4 90.6 L603.6 90.9 L610.9 91.2 L618.2 91.4 L625.4 91.6 L632.7 91.9 L640.0 92.1 L647.2 92.3 L654.5 92.5 L657.0 92.6 L659.6 92.7 L662.1 92.8 L664.6 92.9 L667.1 93.1 L669.7 93.2 L672.2 93.3 L674.7 93.5 L677.2 93.6 L679.7 93.7 L682.3 93.9 L684.8 94.1 L687.3 94.2 L689.8 94.4 L692.3 94.5 L694.9 94.7 L697.4 94.9 L699.9 95.1 L702.4 95.3 L704.9 95.5 L707.5 95.7 L710.0 95.9 L712.5 96.1 L715.0 96.3 L717.5 96.5 L720.1 96.8 L722.6 97.0 L725.1 97.3 L727.6 97.5 L730.1 97.8 L732.6 98.0 L735.1 98.3 L737.7 98.6 L740.2 98.9 L742.7 99.2 L745.2 99.5 L747.7 99.8 L750.2 100.1 L752.7 100.4 L755.3 100.7 L757.8 101.1 L760.3 101.4 L762.8 101.8 L765.3 102.1 L767.8 102.5 L770.3 102.9 L772.8 103.3 L775.3 103.7 L777.9 104.1 L780.4 104.5 L782.9 104.9 L785.4 105.3 L787.9 105.8 L790.4 106.3 L792.9 106.7 L795.3 107.2 L797.8 107.7 L800.3 108.3 L802.8 108.8 L805.3 109.3 L807.7 109.9 L810.2 110.5 L812.7 111.1 L815.1 111.7 L817.6 112.3 L820.0 113.0 L822.4 113.7 L824.9 114.3 L827.3 115.1 L829.7 115.8 L832.1 116.5 L834.5 117.3 L836.9 118.1 L839.3 118.9 L841.6 119.7 L844.0 120.6 L846.4 121.5 L848.7 122.4 L851.1 123.3 L853.4 124.3 L855.7 125.2 L858.0 126.2 L860.3 127.3 L862.6 128.3 L864.9 129.4 L867.1 130.5 L869.4 131.7 L871.6 132.8 L873.9 134.0 L876.1 135.2 L878.3 136.5 L880.5 137.8 L882.6 139.1 L884.8 140.4 L886.9 141.8 L889.0 143.2 L891.2 144.6 L893.2 146.0 L895.3 147.5 L897.4 149.0 L899.4 150.5 L901.4 152.1 L903.4 153.6 L905.3 155.2 L907.3 156.9 L909.2 158.5 L911.1 160.2 L912.9 161.9 L914.8 163.6 L916.6 165.4 L918.4 167.2 L920.2 169.0 L921.9 170.8 L923.6 172.7 L925.3 174.5 L926.9 176.5 L928.5 178.4 L930.1 180.3 L931.7 182.3 L933.2 184.3 L934.7 186.4 L936.1 188.4 L937.5 190.5 L938.9 192.6 L940.3 194.7 L941.6 196.9 L942.8 199.0 L944.1 201.2 L945.3 203.5 L946.4 205.7 L947.6 208.0 L948.6 210.3 L949.7 212.6 L950.7 214.9 L951.6 217.3 L952.5 219.6 L953.4 222.0 L954.2 224.5 L955.0 226.9"/>
</g>
<rect x="56.30" y="29.00" width="929.80" height="493.75" fill="none" stroke="#111" stroke-width="1.9"/>
<text transform="translate(16.32 38.60) scale(0.920 1)" font-size="20.00" font-weight="normal" stroke="#231f20" stroke-width="0.3">100</text>
<text transform="translate(26.98 145.90) scale(0.901 1)" font-size="20.00" font-weight="normal" stroke="#231f20" stroke-width="0.3">50</text>
<text transform="translate(26.69 182.60) scale(0.914 1)" font-size="20.00" font-weight="normal" stroke="#231f20" stroke-width="0.3">40</text>
<text transform="translate(27.03 229.90) scale(0.899 1)" font-size="20.00" font-weight="normal" stroke="#231f20" stroke-width="0.3">30</text>
<text transform="translate(26.53 297.00) scale(0.922 1)" font-size="20.00" font-weight="normal" stroke="#231f20" stroke-width="0.3">20</text>
<text transform="translate(26.61 409.80) scale(0.895 1)" font-size="20.00" font-weight="normal" stroke="#231f20" stroke-width="0.3">10</text>
<text transform="translate(35.70 524.90) scale(0.942 1)" font-size="20.00" font-weight="normal" stroke="#231f20" stroke-width="0.3">5</text>
<text transform="translate(29.89 342.90) scale(0.897 1)" font-size="25.80" font-weight="bold">H</text>
<text transform="translate(30.10 364.80) scale(0.987 1)" font-size="20.20" font-weight="normal" stroke="#231f20" stroke-width="0.3">m</text>
<text transform="translate(50.07 546.00) scale(0.920 1)" font-size="20.00" font-weight="normal" stroke="#231f20" stroke-width="0.3">10</text>
<text transform="translate(124.35 546.00) scale(0.897 1)" font-size="20.00" font-weight="normal" stroke="#231f20" stroke-width="0.3">15</text>
<text transform="translate(176.48 546.00) scale(0.971 1)" font-size="20.00" font-weight="normal" stroke="#231f20" stroke-width="0.3">20</text>
<text transform="translate(251.99 546.00) scale(0.947 1)" font-size="20.00" font-weight="normal" stroke="#231f20" stroke-width="0.3">30</text>
<text transform="translate(309.30 546.00) scale(0.898 1)" font-size="20.00" font-weight="normal" stroke="#231f20" stroke-width="0.3">40</text>
<text transform="translate(351.96 546.00) scale(0.925 1)" font-size="20.00" font-weight="normal" stroke="#231f20" stroke-width="0.3">50</text>
<text transform="translate(477.64 546.00) scale(0.871 1)" font-size="20.00" font-weight="normal" stroke="#231f20" stroke-width="0.3">100</text>
<text transform="translate(552.64 546.00) scale(0.871 1)" font-size="20.00" font-weight="normal" stroke="#231f20" stroke-width="0.3">150</text>
<text transform="translate(604.54 546.00) scale(0.910 1)" font-size="20.00" font-weight="normal" stroke="#231f20" stroke-width="0.3">200</text>
<text transform="translate(680.01 546.00) scale(0.914 1)" font-size="20.00" font-weight="normal" stroke="#231f20" stroke-width="0.3">300</text>
<text transform="translate(732.79 546.00) scale(0.905 1)" font-size="20.00" font-weight="normal" stroke="#231f20" stroke-width="0.3">400</text>
<text transform="translate(773.71 546.00) scale(0.931 1)" font-size="20.00" font-weight="normal" stroke="#231f20" stroke-width="0.3">500</text>
<text transform="translate(895.60 546.00) scale(0.897 1)" font-size="20.00" font-weight="normal" stroke="#231f20" stroke-width="0.3">1000</text>
<text transform="translate(968.10 546.00) scale(0.897 1)" font-size="20.00" font-weight="normal" stroke="#231f20" stroke-width="0.3">1500</text>
<text transform="translate(388.28 551.30) scale(0.975 1)" font-size="23.60" font-weight="bold">Q</text>
<text transform="translate(407.82 551.00) scale(0.905 1)" font-size="21.00" font-weight="normal" stroke="#231f20" stroke-width="0.3">m</text>
<text transform="translate(420.30 541.50) scale(0.934 1)" font-size="14.20" font-weight="normal" stroke="#231f20" stroke-width="0.3">3</text>
<text transform="translate(428.20 551.00) scale(0.867 1)" font-size="20.60" font-weight="normal" stroke="#231f20" stroke-width="0.3">/h</text>
<text transform="translate(173.97 396.80) scale(0.888 1)" font-size="30.60" font-weight="bold">DN 65</text>
<text transform="translate(362.76 269.80) scale(0.890 1)" font-size="30.60" font-weight="bold">DN 80</text>
<text transform="translate(471.61 158.60) scale(0.890 1)" font-size="30.60" font-weight="bold">DN 100</text>
<text transform="translate(660.62 234.80) scale(0.886 1)" font-size="30.60" font-weight="bold">DN 150</text>
<text transform="translate(603.98 420.80) scale(0.880 1)" font-size="30.60" font-weight="bold">DN 200</text>
<text transform="translate(831.87 235.60) scale(0.887 1)" font-size="30.60" font-weight="bold">DN 250</text>
<text transform="translate(850.13 100.10) scale(0.732 1)" font-size="62.00" font-weight="bold">GKC</text>
<text transform="translate(994.4 516.6) rotate(-90)" font-size="8.4" font-style="italic" style="fill:#4a4a50">72.2001</text>
</svg></body></html>
